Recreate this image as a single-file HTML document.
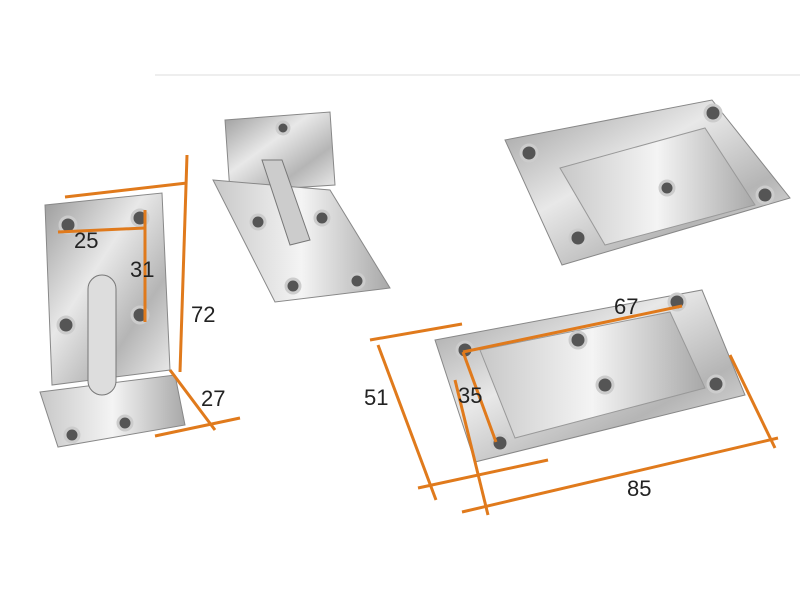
<!DOCTYPE html>
<html><head><meta charset="utf-8"><style>
html,body{margin:0;padding:0;background:#fff;width:800px;height:600px;overflow:hidden}
svg text{font-family:"Liberation Sans",sans-serif;font-size:22px;fill:#222}
</style></head><body>
<svg width="800" height="600" viewBox="0 0 800 600" xmlns="http://www.w3.org/2000/svg">
<defs>
<linearGradient id="m1" x1="0" y1="0" x2="1" y2="1">
<stop offset="0" stop-color="#9a9a9a"/><stop offset="0.4" stop-color="#e8e8e8"/><stop offset="0.7" stop-color="#b5b5b5"/><stop offset="1" stop-color="#eeeeee"/></linearGradient>
<linearGradient id="m2" x1="0" y1="0" x2="1" y2="0">
<stop offset="0" stop-color="#c8c8c8"/><stop offset="0.5" stop-color="#f4f4f4"/><stop offset="1" stop-color="#a8a8a8"/></linearGradient>
</defs>
<line x1="155" y1="75" x2="800" y2="75" stroke="#eee" stroke-width="2"/>
<!-- left bracket -->
<polygon points="45,205 162,193 170,370 52,385" fill="url(#m1)" stroke="#888"/>
<polygon points="40,392 175,375 185,425 58,447" fill="url(#m2)" stroke="#888"/>
<rect x="88" y="275" width="28" height="120" rx="14" fill="#ddd" stroke="#777"/>
<g fill="#555" stroke="#ccc" stroke-width="3">
<circle cx="68" cy="225" r="8"/><circle cx="140" cy="218" r="8"/><circle cx="66" cy="325" r="8"/><circle cx="140" cy="315" r="8"/><circle cx="72" cy="435" r="7"/><circle cx="125" cy="423" r="7"/></g>
<!-- middle bracket -->
<polygon points="225,120 330,112 335,185 230,192" fill="url(#m1)" stroke="#888"/>
<polygon points="213,180 330,190 390,288 275,302" fill="url(#m2)" stroke="#888"/>
<polygon points="262,160 282,160 310,240 290,245" fill="#ccc" stroke="#777"/>
<g fill="#555" stroke="#ccc" stroke-width="3">
<circle cx="283" cy="128" r="6"/><circle cx="258" cy="222" r="7"/><circle cx="322" cy="218" r="7"/><circle cx="293" cy="286" r="7"/><circle cx="357" cy="281" r="7"/></g>
<!-- top right plate -->
<polygon points="505,140 712,100 790,198 562,265" fill="url(#m1)" stroke="#888"/>
<polygon points="560,168 705,128 755,205 605,245" fill="url(#m2)" stroke="#999"/>
<g fill="#555" stroke="#ccc" stroke-width="3">
<circle cx="529" cy="153" r="8"/><circle cx="713" cy="113" r="8"/><circle cx="578" cy="238" r="8"/><circle cx="765" cy="195" r="8"/><circle cx="667" cy="188" r="7"/></g>
<!-- bottom right plate -->
<polygon points="435,340 702,290 745,395 475,462" fill="url(#m1)" stroke="#888"/>
<polygon points="480,350 670,312 705,388 515,438" fill="url(#m2)" stroke="#999"/>
<g fill="#555" stroke="#ccc" stroke-width="3">
<circle cx="465" cy="350" r="8"/><circle cx="677" cy="302" r="8"/><circle cx="500" cy="443" r="8"/><circle cx="716" cy="384" r="8"/><circle cx="578" cy="340" r="8"/><circle cx="605" cy="385" r="8"/></g>
<!-- orange dims -->
<g stroke="#e07a1c" stroke-width="3" fill="none">
<line x1="65" y1="197" x2="187" y2="183"/>
<line x1="187" y1="155" x2="180" y2="372"/>
<line x1="58" y1="232" x2="145" y2="228"/>
<line x1="145" y1="210" x2="145" y2="322"/>
<line x1="170" y1="370" x2="215" y2="430"/>
<line x1="155" y1="436" x2="240" y2="418"/>
<line x1="370" y1="340" x2="462" y2="324"/>
<line x1="378" y1="345" x2="436" y2="500"/>
<line x1="418" y1="488" x2="548" y2="460"/>
<line x1="463" y1="352" x2="682" y2="306"/>
<line x1="463" y1="352" x2="496" y2="442"/>
<line x1="455" y1="380" x2="488" y2="515"/>
<line x1="462" y1="512" x2="778" y2="438"/>
<line x1="730" y1="355" x2="775" y2="448"/>
</g>
<text x="74" y="248">25</text>
<text x="130" y="277">31</text>
<text x="191" y="322">72</text>
<text x="201" y="406">27</text>
<text x="614" y="314">67</text>
<text x="458" y="403">35</text>
<text x="364" y="405">51</text>
<text x="627" y="496">85</text>
</svg>
</body></html>
